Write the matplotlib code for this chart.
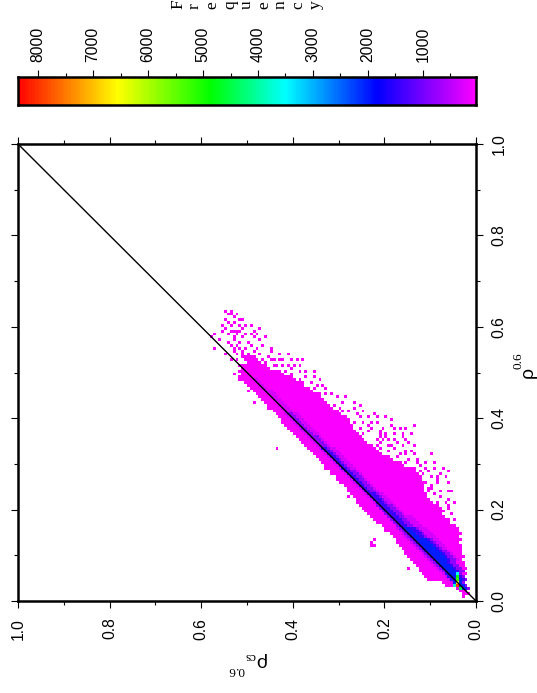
import numpy as np
import matplotlib
matplotlib.use("Agg")
import matplotlib.pyplot as plt
from matplotlib.colors import LinearSegmentedColormap

W = 537
H = 693
plt.rcParams["font.family"] = ["Liberation Sans", "DejaVu Sans"]

# solid part of the cloud, row by row: rho^0.6 and the rho_cs range at that row
rho_rows = [0.025, 0.0375, 0.05, 0.0625, 0.075, 0.0875, 0.10, 0.1125, 0.125, 0.1375,
            0.15, 0.1625, 0.175, 0.1875, 0.20, 0.2125, 0.225, 0.2375, 0.25, 0.2625,
            0.275, 0.2875, 0.30, 0.3125, 0.325, 0.3375, 0.35, 0.3625, 0.375, 0.3875,
            0.40, 0.4125, 0.425, 0.4375, 0.45, 0.4625, 0.475, 0.4875, 0.50, 0.5125, 0.525]
cs_high = [0.040, 0.066, 0.105, 0.118, 0.128, 0.138, 0.147, 0.158, 0.168, 0.178,
           0.188, 0.203, 0.218, 0.230, 0.243, 0.256, 0.265, 0.272, 0.283, 0.297,
           0.307, 0.319, 0.332, 0.344, 0.357, 0.370, 0.382, 0.395, 0.405, 0.418,
           0.424, 0.435, 0.450, 0.462, 0.478, 0.490, 0.503, 0.512, 0.515, 0.512, 0.500]
cs_low = [0.026, 0.024, 0.022, 0.022, 0.027, 0.030, 0.032, 0.035, 0.037, 0.037,
          0.038, 0.045, 0.062, 0.072, 0.083, 0.094, 0.104, 0.110, 0.116, 0.121,
          0.128, 0.140, 0.160, 0.185, 0.212, 0.228, 0.243, 0.255, 0.266, 0.276,
          0.287, 0.303, 0.316, 0.332, 0.346, 0.365, 0.382, 0.400, 0.425, 0.455, 0.472]

# denser core along the diagonal: range of rho_cs where the count passes each level
nan = float("nan")
core_rho = [0.0375, 0.05, 0.075, 0.10, 0.125, 0.15, 0.175, 0.20, 0.225, 0.25,
            0.275, 0.30, 0.325, 0.35, 0.375, 0.40, 0.425, 0.45, 0.475]
core_300_hi = [0.050, 0.064, 0.087, 0.112, 0.137, 0.160, 0.184, 0.208, 0.232, 0.257,
               0.281, 0.305, 0.329, 0.354, 0.379, 0.404, 0.428, 0.453, 0.477]
core_300_lo = [0.026, 0.024, 0.035, 0.050, 0.075, 0.100, 0.130, 0.166, 0.195, 0.222,
               0.249, 0.276, 0.303, 0.330, 0.356, 0.382, 0.410, 0.438, 0.468]
core_800_hi = [0.046, 0.058, 0.081, 0.106, 0.131, 0.155, 0.179, 0.204, 0.228, 0.253,
               0.278, 0.303, 0.327, 0.352, 0.377, 0.402, nan, nan, nan]
core_800_lo = [0.028, 0.026, 0.040, 0.058, 0.085, 0.116, 0.148, 0.178, 0.205, 0.232,
               0.259, 0.286, 0.313, 0.340, 0.367, 0.392, nan, nan, nan]
core_1400_hi = [0.044, 0.055, 0.078, 0.100, 0.125, 0.152, 0.177, 0.202, 0.226, 0.251,
                0.276, 0.301, 0.326, nan, nan, nan, nan, nan, nan]
core_1400_lo = [0.030, 0.030, 0.047, 0.066, 0.095, 0.128, 0.160, 0.188, 0.215, 0.242,
                0.268, 0.294, 0.320, nan, nan, nan, nan, nan, nan]
core_2000_hi = [0.042, 0.052, 0.075, 0.096, 0.121, 0.146, nan, nan, nan, nan,
                nan, nan, nan, nan, nan, nan, nan, nan, nan]
core_2000_lo = [0.032, 0.036, 0.055, 0.075, 0.103, 0.136, nan, nan, nan, nan,
                nan, nan, nan, nan, nan, nan, nan, nan, nan]

# hot streak close to the origin
hot_cs = [0.038, 0.038, 0.038, 0.038, 0.038, 0.032, 0.044]
hot_rho = [0.060, 0.054, 0.048, 0.042, 0.036, 0.030, 0.036]
hot_count = [3500, 4800, 5200, 6500, 8000, 4500, 3800]

# isolated cells around the solid part (rho_cs, rho^0.6)
sparse = [
    (0.544, 0.637), (0.533, 0.635), (0.533, 0.628), (0.522, 0.628), (0.549, 0.616),
    (0.509, 0.613), (0.551, 0.602), (0.546, 0.599), (0.533, 0.602), (0.526, 0.608),
    (0.489, 0.602), (0.473, 0.597), (0.537, 0.593), (0.522, 0.592), (0.508, 0.595),
    (0.573, 0.586), (0.540, 0.582), (0.519, 0.582), (0.504, 0.586), (0.493, 0.582),
    (0.475, 0.582), (0.580, 0.576), (0.559, 0.571), (0.540, 0.568), (0.526, 0.571),
    (0.515, 0.568), (0.497, 0.568), (0.460, 0.575), (0.537, 0.557), (0.522, 0.560),
    (0.489, 0.560), (0.464, 0.560), (0.573, 0.551), (0.544, 0.542), (0.530, 0.546),
    (0.511, 0.549), (0.482, 0.546), (0.446, 0.555), (0.449, 0.546), (0.533, 0.531),
    (0.519, 0.538), (0.504, 0.531), (0.489, 0.531), (0.453, 0.535), (0.429, 0.542),
    (0.409, 0.541), (0.402, 0.531), (0.391, 0.527), (0.378, 0.531), (0.457, 0.524),
    (0.439, 0.527), (0.420, 0.527), (0.395, 0.516), (0.384, 0.514), (0.442, 0.516),
    (0.420, 0.513), (0.530, 0.496), (0.513, 0.482), (0.495, 0.462), (0.484, 0.436),
    (0.453, 0.422), (0.435, 0.336), (0.369, 0.502), (0.355, 0.502), (0.340, 0.485),
    (0.384, 0.487), (0.358, 0.476), (0.333, 0.473), (0.351, 0.466), (0.329, 0.455),
    (0.373, 0.447), (0.351, 0.447), (0.304, 0.446), (0.282, 0.446), (0.293, 0.436),
    (0.264, 0.436), (0.373, 0.436), (0.355, 0.436), (0.333, 0.436), (0.311, 0.429),
    (0.253, 0.431), (0.297, 0.422), (0.275, 0.414), (0.224, 0.411), (0.260, 0.407),
    (0.304, 0.390), (0.282, 0.400), (0.264, 0.389), (0.246, 0.389), (0.231, 0.390),
    (0.198, 0.402), (0.184, 0.395), (0.216, 0.403), (0.289, 0.374), (0.267, 0.371),
    (0.235, 0.382), (0.209, 0.371), (0.184, 0.385), (0.166, 0.380), (0.136, 0.382),
    (0.300, 0.367), (0.246, 0.367), (0.195, 0.360), (0.180, 0.367), (0.209, 0.360),
    (0.158, 0.360), (0.140, 0.367), (0.216, 0.342), (0.191, 0.342), (0.144, 0.345),
    (0.180, 0.334), (0.209, 0.323), (0.166, 0.323), (0.125, 0.312), (0.209, 0.296),
    (0.195, 0.301), (0.173, 0.301), (0.144, 0.309), (0.158, 0.290), (0.140, 0.276),
    (0.125, 0.280), (0.329, 0.290), (0.315, 0.276), (0.235, 0.370), (0.210, 0.367),
    (0.195, 0.367), (0.181, 0.367), (0.162, 0.363), (0.141, 0.367), (0.210, 0.348),
    (0.192, 0.352), (0.177, 0.352), (0.155, 0.356), (0.144, 0.345), (0.210, 0.334),
    (0.184, 0.338), (0.162, 0.338), (0.137, 0.341), (0.152, 0.323), (0.133, 0.323),
    (0.097, 0.324), (0.173, 0.316), (0.144, 0.308), (0.126, 0.301), (0.108, 0.301),
    (0.093, 0.305), (0.122, 0.287), (0.101, 0.283), (0.071, 0.290), (0.061, 0.283),
    (0.115, 0.276), (0.086, 0.272), (0.068, 0.272), (0.112, 0.261), (0.082, 0.261),
    (0.061, 0.261), (0.097, 0.246), (0.075, 0.243), (0.061, 0.239), (0.122, 0.235),
    (0.108, 0.225), (0.086, 0.210), (0.068, 0.214), (0.061, 0.221), (0.075, 0.195),
    (0.101, 0.195), (0.061, 0.177), (0.097, 0.176), (0.279, 0.230), (0.225, 0.120),
    (0.225, 0.127), (0.219, 0.120), (0.219, 0.133), (0.144, 0.276), (0.133, 0.276),
    (0.115, 0.254), (0.097, 0.254), (0.082, 0.265), (0.060, 0.258), (0.122, 0.236),
    (0.100, 0.243), (0.053, 0.243), (0.046, 0.217), (0.100, 0.214), (0.082, 0.217),
    (0.057, 0.207), (0.071, 0.196), (0.060, 0.181), (0.046, 0.177), (0.035, 0.113),
    (0.028, 0.010), (0.144, 0.074), (0.202, 0.163), (0.195, 0.155),
    (0.540, 0.625), (0.527, 0.620), (0.515, 0.618), (0.540, 0.610), (0.515, 0.604),
    (0.500, 0.600), (0.555, 0.590), (0.530, 0.590), (0.515, 0.592), (0.487, 0.590),
    (0.530, 0.575), (0.510, 0.578), (0.487, 0.575), (0.470, 0.572), (0.515, 0.556),
    (0.500, 0.555), (0.478, 0.555), (0.530, 0.556), (0.510, 0.540), (0.495, 0.540),
    (0.470, 0.540), (0.520, 0.525), (0.497, 0.522), (0.480, 0.525), (0.465, 0.530),
    (0.447, 0.530), (0.430, 0.528), (0.470, 0.515), (0.453, 0.512), (0.432, 0.515),
    (0.408, 0.518), (0.400, 0.510), (0.415, 0.505), (0.440, 0.503), (0.425, 0.495),
    (0.405, 0.497), (0.385, 0.500), (0.370, 0.490), (0.395, 0.485), (0.375, 0.478),
    (0.350, 0.488), (0.345, 0.470), (0.365, 0.465), (0.325, 0.465), (0.340, 0.455),
    (0.315, 0.450), (0.360, 0.455), (0.290, 0.415), (0.265, 0.420), (0.245, 0.415),
    (0.255, 0.400), (0.235, 0.400), (0.275, 0.395), (0.215, 0.390), (0.225, 0.375),
    (0.255, 0.377), (0.200, 0.380), (0.175, 0.375), (0.155, 0.375), (0.215, 0.355),
    (0.200, 0.350), (0.170, 0.345), (0.155, 0.330), (0.190, 0.325), (0.140, 0.328),
    (0.150, 0.300), (0.130, 0.305), (0.120, 0.295), (0.135, 0.288), (0.110, 0.288),
    (0.090, 0.290), (0.095, 0.270), (0.075, 0.280), (0.105, 0.245), (0.090, 0.235),
    (0.075, 0.225), (0.080, 0.205), (0.060, 0.200), (0.095, 0.215), (0.050, 0.190),
    (0.060, 0.165),
]

bar_major = [1000, 2000, 3000, 4000, 5000, 6000, 7000, 8000]
bar_minor = [500, 1500, 2500, 3500, 4500, 5500, 6500, 7500]
axis_major = [0.0, 0.2, 0.4, 0.6, 0.8, 1.0]
axis_minor = [0.1, 0.3, 0.5, 0.7, 0.9]
freq_letters = list("Frequency")
freq_x = [178, 195, 212, 230, 247, 264, 281, 298, 316]

COUNT_MAX = 8364
cmap = LinearSegmentedColormap.from_list("freq", [
    (0.0, "#ff00ff"), (0.217, "#0000ff"), (0.417, "#00ffff"),
    (0.580, "#00ff00"), (0.783, "#ffff00"), (1.0, "#ff0000")])

N = 160
edges = np.linspace(0, 1, N + 1)
grid = np.zeros((N, N))


def fill_band(rows, high, low, level):
    # the range follows the diagonal between two table rows
    rows = np.array(rows)
    high = np.array(high)
    low = np.array(low)
    for j in range(N):
        r = (j + 0.5) / N
        if r < rows[0] - 0.01 or r > rows[-1] + 0.01:
            continue
        k = np.argmin(np.abs(rows - r))
        if np.isnan(high[k]):
            continue
        i0 = int((low[k] - rows[k] + r) * N)
        i1 = int((high[k] - rows[k] + r) * N)
        grid[j, max(i0, 0):i1 + 1] = level


fill_band(rho_rows, cs_high, cs_low, 40)
fill_band(core_rho, core_300_hi, core_300_lo, 300)
fill_band(core_rho, core_800_hi, core_800_lo, 800)
fill_band(core_rho, core_1400_hi, core_1400_lo, 1400)
fill_band(core_rho, core_2000_hi, core_2000_lo, 2000)
for c, r in sparse:
    grid[int(r * N), int(c * N)] = max(grid[int(r * N), int(c * N)], 40)
for c, r, v in zip(hot_cs, hot_rho, hot_count):
    grid[int(r * N), int(c * N)] = v
grid = np.ma.masked_equal(grid, 0)

fig = plt.figure(figsize=(W / 100, H / 100), dpi=100)

# main panel
ax = fig.add_axes([18 / W, 1 - 601 / H, 458 / W, 457 / H])
ax.pcolormesh(edges, edges, grid, cmap=cmap, vmin=0, vmax=COUNT_MAX, antialiased=False)
ax.plot([0, 1], [0, 1], color="black", lw=1.0)
ax.set_xlim(1, 0)
ax.set_ylim(0, 1)
ax.set_xticks(axis_major)
ax.set_yticks(axis_major)
ax.set_xticks(axis_minor, minor=True)
ax.set_yticks(axis_minor, minor=True)
ax.tick_params(which="major", length=5, width=0.8, top=True, bottom=True, left=True, right=True,
               labelleft=False, labelright=True, labelsize=11.3)
ax.tick_params(which="minor", length=3, width=0.8, top=True, bottom=True, left=True, right=True)
ax.tick_params(axis="x", pad=7)
ax.tick_params(axis="y", pad=6)
for t in ax.get_xticklabels():
    t.set_rotation(90)
for t in ax.get_yticklabels():
    t.set_rotation(90)
    t.set_verticalalignment("center")
for s in ax.spines.values():
    s.set_linewidth(1.8)

# colour bar
bar = fig.add_axes([18 / W, 1 - 105 / H, 458 / W, 28 / H])
bar_edges = np.linspace(0, COUNT_MAX, 401)
bar.pcolormesh(bar_edges, [0, 1], bar_edges[:-1].reshape(1, -1), cmap=cmap, vmin=0, vmax=COUNT_MAX)
bar.set_xlim(COUNT_MAX, 36)
bar.set_ylim(0, 1)
bar.set_yticks([])
bar.xaxis.tick_top()
bar.set_xticks(bar_major)
bar.set_xticks(bar_minor, minor=True)
bar.tick_params(which="major", length=5, width=0.8, labelsize=11.3, pad=6)
bar.tick_params(which="minor", length=3, width=0.8)
for t in bar.get_xticklabels():
    t.set_rotation(90)
for s in bar.spines.values():
    s.set_linewidth(1.8)

# stacked colour bar title, cut by the top edge of the page
for x, ch in zip(freq_x, freq_letters):
    fig.text(x / W, 1 - 9 / H, ch, family="Liberation Serif", fontsize=12.5, rotation=90,
             ha="center", va="bottom")

# axis labels
fig.text(528 / W, 1 - 372 / H, "ρ", fontsize=14, rotation=90, ha="center", va="center")
fig.text(519 / W, 1 - 361 / H, "0.6", family="Liberation Serif", fontsize=9.5, rotation=90,
         ha="center", va="center")
fig.text(260 / W, 1 - 660 / H, "ρ", fontsize=14, rotation=180, ha="center", va="center")
fig.text(250 / W, 1 - 656 / H, "cs", family="Liberation Serif", fontsize=9.5, rotation=180,
         ha="center", va="center")
fig.text(236 / W, 1 - 670 / H, "0.6", family="Liberation Serif", fontsize=9.5, rotation=180,
         ha="center", va="center")

fig.savefig("out.png", dpi=100)
